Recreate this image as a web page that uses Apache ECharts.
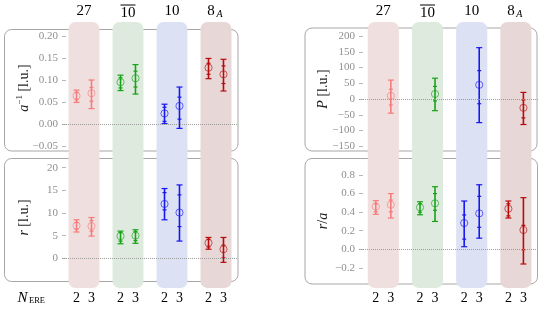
<!DOCTYPE html>
<html><head><meta charset="utf-8">
<script src="https://cdn.jsdelivr.net/npm/echarts@6/dist/echarts.min.js"></script>
<style>html,body{margin:0;padding:0;background:#fff}#c{width:543px;height:309px}</style>
</head><body><div id="c"></div>
<script>
// ---------------- data ----------------
const categories = ['27', '10bar', '10', '8A'];
const nEre = [2, 3];
// each entry: [central, innerLow, innerHigh, outerLow, outerHigh]
const aInvN2 = [[0.064,0.055,0.072,0.049,0.077],[0.095,0.082,0.105,0.076,0.111],[0.024,0.006,0.038,0.001,0.045],[0.128,0.113,0.138,0.103,0.149]];
const aInvN3 = [[0.070,0.052,0.083,0.035,0.100],[0.104,0.084,0.120,0.068,0.135],[0.041,0.011,0.061,-0.010,0.084],[0.113,0.092,0.132,0.075,0.147]];
const rN2 = [[7.2,6.4,7.9,5.8,8.5],[4.9,3.8,5.7,3.2,6.0],[12.0,10.7,14.5,8.5,15.4],[3.4,2.5,4.2,2.0,4.6]];
const rN3 = [[7.1,6.0,8.3,4.9,9.0],[5.0,3.9,5.9,3.3,6.3],[10.1,7.0,14.0,3.8,16.2],[2.0,0.1,2.9,-0.9,4.6]];
const pN3 = [[10,-19,31,-45,60],[16,-6,40,-37,66],[45,-15,90,-75,163],[-28,-60,-3,-81,21]];
const raN2 = [[0.46,0.405,0.49,0.377,0.523],[0.452,0.40,0.49,0.372,0.512],[0.283,0.11,0.37,0.028,0.52],[0.437,0.36,0.49,0.337,0.52]];
const raN3 = [[0.48,0.405,0.53,0.337,0.60],[0.495,0.42,0.60,0.30,0.674],[0.387,0.237,0.57,0.12,0.695],[0.208,-0.004,0.258,-0.158,0.556]];
// tick labels
const aInvTicks = [-0.05, 0, 0.05, 0.10, 0.15, 0.20];
const rTicks = [0, 5, 10, 15, 20];
const pTicks = [-150, -100, -50, 0, 50, 100, 150, 200];
const raTicks = [-0.2, 0, 0.2, 0.4, 0.6, 0.8];

// ---------------- styles ----------------
const catColors = ['#f77b7b', '#17a317', '#1717f2', '#b80c0c'];
const bgColors = ['#f0dfdf', '#deeade', '#dce1f4', '#e8d7d7'];
const SERIF = '"Liberation Serif", "DejaVu Serif", serif';
const OFF = 0.17, HALFW = 0.352;

function nOffset(n) { return n === 2 ? -OFF : OFF; }
function fmt(v, d) { const s = Math.abs(v).toFixed(d); return (v < -1e-9 ? '\u2212' : '') + s; }

function buildData(sets) {
  const out = [];
  sets.forEach(s => s.vals.forEach((v, k) => {
    out.push([k + nOffset(s.n), v[0], v[1], v[2], v[3], v[4], k]);
  }));
  return out;
}

function errRender(params, api) {
  const x = api.value(0), k = api.value(6);
  const c = api.coord([x, api.value(1)]);
  const il = api.coord([x, api.value(2)]), ih = api.coord([x, api.value(3)]);
  const ol = api.coord([x, api.value(4)]), oh = api.coord([x, api.value(5)]);
  const col = catColors[k];
  const ls = { stroke: col, lineWidth: 1.6 };
  const hs = { stroke: col, lineWidth: 1.2 };
  const px = c[0];
  return { type: 'group', children: [
    { type: 'line', shape: { x1: px, y1: ol[1], x2: px, y2: oh[1] }, style: ls },
    { type: 'line', shape: { x1: px - 3, y1: ol[1], x2: px + 3, y2: ol[1] }, style: hs },
    { type: 'line', shape: { x1: px - 3, y1: oh[1], x2: px + 3, y2: oh[1] }, style: hs },
    { type: 'line', shape: { x1: px - 2, y1: il[1], x2: px + 2, y2: il[1] }, style: hs },
    { type: 'line', shape: { x1: px - 2, y1: ih[1], x2: px + 2, y2: ih[1] }, style: hs },
    { type: 'circle', shape: { cx: px, cy: c[1], r: 3.6 }, style: { fill: null, stroke: col, lineWidth: 1, opacity: 0.65 } }
  ]};
}

function bgRender(params, api) {
  const k = api.value(0);
  const tl = api.coord([k - HALFW, 1]), br = api.coord([k + HALFW, 0]);
  const top = api.coord([k, 1]);
  const children = [
    { type: 'rect', shape: { x: tl[0], y: tl[1], width: br[0] - tl[0], height: br[1] - tl[1], r: 7 }, style: { fill: bgColors[k] } }
  ];
  const hy = top[1] - 10.5;
  const name = categories[k];
  if (name === '8A') {
    children.push({ type: 'text', x: top[0] - 5, y: hy, style: { text: '8', fontSize: 15, fontFamily: SERIF, fill: '#000', align: 'center', verticalAlign: 'middle' } });
    children.push({ type: 'text', x: top[0] + 3.5, y: hy + 3, style: { text: 'A', fontSize: 10, fontStyle: 'italic', fontFamily: SERIF, fill: '#000', align: 'center', verticalAlign: 'middle' } });
  } else if (name === '10bar') {
    children.push({ type: 'text', x: top[0], y: hy + 1.5, style: { text: '10', fontSize: 15, fontFamily: SERIF, fill: '#000', align: 'center', verticalAlign: 'middle' } });
    children.push({ type: 'line', shape: { x1: top[0] - 7.5, y1: hy - 6.5, x2: top[0] + 7.5, y2: hy - 6.5 }, style: { stroke: '#000', lineWidth: 1 } });
  } else {
    children.push({ type: 'text', x: top[0], y: hy, style: { text: name, fontSize: 15, fontFamily: SERIF, fill: '#000', align: 'center', verticalAlign: 'middle' } });
  }
  nEre.forEach(n => {
    const p = api.coord([k + nOffset(n), 0]);
    children.push({ type: 'text', x: p[0], y: p[1] + 10.5, style: { text: String(n), fontSize: 14, fontFamily: SERIF, fill: '#000', align: 'center', verticalAlign: 'middle' } });
  });
  return { type: 'group', children };
}

// ---------------- layout ----------------
const grids = [
  { left: 62, width: 176, top: 31.6, height: 118.8 },   // a^-1
  { left: 62, width: 176, top: 167.7, height: 108.7 },  // r
  { left: 359, width: 179, top: 32.85, height: 116.55 },// P
  { left: 359, width: 179, top: 165.7, height: 111.5 }, // r/a
  { left: 62, width: 176, top: 22, height: 266 },       // bg left
  { left: 359, width: 179, top: 22, height: 266 }       // bg right
];
const xAxes = grids.map((g, i) => ({ type: 'value', gridIndex: i, show: false,
  min: (i === 2 || i === 3 || i === 5) ? -0.55 : -0.5, max: 3.5 }));

const axisCol = '#b8b8b8';
function minorAxis(gi, min, max, step) {
  return { type: 'value', gridIndex: gi, position: 'left', min, max, interval: step,
    axisLine: { show: true, lineStyle: { color: axisCol, width: 1 } },
    axisTick: { show: true, inside: true, length: 2, lineStyle: { color: axisCol } },
    axisLabel: { show: false }, splitLine: { show: false } };
}
function majorAxis(gi, min, max, labels, d) {
  return { type: 'value', gridIndex: gi, position: 'left', min, max,
    axisLine: { show: false },
    axisTick: { show: true, inside: true, length: 4, customValues: labels, lineStyle: { color: axisCol } },
    axisLabel: { show: true, customValues: labels, margin: 4, color: '#8f8f8f', fontFamily: SERIF, fontSize: 11,
      formatter: v => fmt(v, d) },
    splitLine: { show: false } };
}
const yAxes = [
  minorAxis(0, -0.06, 0.21, 0.01), majorAxis(0, -0.06, 0.21, aInvTicks, 2),
  minorAxis(1, -4, 20, 1), majorAxis(1, -4, 20, rTicks, 0),
  minorAxis(2, -160, 210, 10), majorAxis(2, -160, 210, pTicks, 0),
  minorAxis(3, -0.3, 0.9, 0.05), majorAxis(3, -0.3, 0.9, raTicks, 1),
  { type: 'value', gridIndex: 4, min: 0, max: 1, show: false },
  { type: 'value', gridIndex: 5, min: 0, max: 1, show: false }
];

const zeroLine = { silent: true, symbol: 'none', label: { show: false },
  lineStyle: { color: '#9c9c9c', type: 'dotted', width: 1 }, data: [{ yAxis: 0 }] };

const panels = [
  buildData([{ n: 2, vals: aInvN2 }, { n: 3, vals: aInvN3 }]),
  buildData([{ n: 2, vals: rN2 }, { n: 3, vals: rN3 }]),
  buildData([{ n: 3, vals: pN3 }]),
  buildData([{ n: 2, vals: raN2 }, { n: 3, vals: raN3 }])
];

const series = [
  { type: 'custom', xAxisIndex: 4, yAxisIndex: 8, z: 1, clip: false, silent: true,
    data: categories.map((c, k) => [k]), renderItem: bgRender },
  { type: 'custom', xAxisIndex: 5, yAxisIndex: 9, z: 1, clip: false, silent: true,
    data: categories.map((c, k) => [k]), renderItem: bgRender }
];
panels.forEach((data, p) => {
  series.push({ type: 'custom', xAxisIndex: p, yAxisIndex: 2 * p + 1, z: 3, clip: false, silent: true,
    encode: { x: 0, y: 1 }, data, renderItem: errRender, markLine: zeroLine });
});

const frameStyle = { fill: null, stroke: '#a6a6a6', lineWidth: 1 };
const nameStyle = (text, rich) => ({ text, fontSize: 14, fontFamily: SERIF, fill: '#222', align: 'center', verticalAlign: 'middle', rich });
const richBase = {
  i: { fontSize: 14, fontFamily: SERIF, fontStyle: 'italic', fill: '#222', lineHeight: 16, verticalAlign: 'bottom' },
  n: { fontSize: 14, fontFamily: SERIF, fill: '#222', lineHeight: 16, verticalAlign: 'bottom' },
  s: { fontSize: 9, fontFamily: SERIF, fill: '#222', lineHeight: 16, verticalAlign: 'top' }
};
const graphic = [
  { type: 'rect', z: 0, shape: { x: 4.5, y: 29.5, width: 233.5, height: 121.5, r: 7 }, style: frameStyle },
  { type: 'rect', z: 0, shape: { x: 305, y: 28, width: 232, height: 123, r: 7 }, style: frameStyle },
  { type: 'rect', z: 0, shape: { x: 4.5, y: 158.5, width: 233.5, height: 123, r: 7 }, style: frameStyle },
  { type: 'rect', z: 0, shape: { x: 305, y: 158.5, width: 232.5, height: 125.5, r: 7 }, style: frameStyle },
  { type: 'text', z: 5, x: 23, y: 88, rotation: Math.PI / 2, style: nameStyle('{i|a}{s|\u22121}{n| [l.u.]}', richBase) },
  { type: 'text', z: 5, x: 23, y: 217.5, rotation: Math.PI / 2, style: nameStyle('{i|r}{n| [l.u.]}', richBase) },
  { type: 'text', z: 5, x: 322, y: 89, rotation: Math.PI / 2, style: nameStyle('{i|P}{n| [l.u.]}', richBase) },
  { type: 'text', z: 5, x: 322, y: 221, rotation: Math.PI / 2, style: nameStyle('{i|r}{n|/}{i|a}', richBase) },
  { type: 'text', z: 5, x: 22.5, y: 298, style: { text: 'N', fontSize: 15, fontStyle: 'italic', fontFamily: SERIF, fill: '#000', align: 'center', verticalAlign: 'middle' } },
  { type: 'text', z: 5, x: 37, y: 300.5, style: { text: 'ERE', fontSize: 8.5, fontFamily: SERIF, fill: '#000', align: 'center', verticalAlign: 'middle' } }
];

const chart = echarts.init(document.getElementById('c'), null, { renderer: 'canvas' });
chart.setOption({
  animation: false,
  backgroundColor: '#fff',
  grid: grids,
  xAxis: xAxes,
  yAxis: yAxes,
  series,
  graphic
});
</script></body></html>
